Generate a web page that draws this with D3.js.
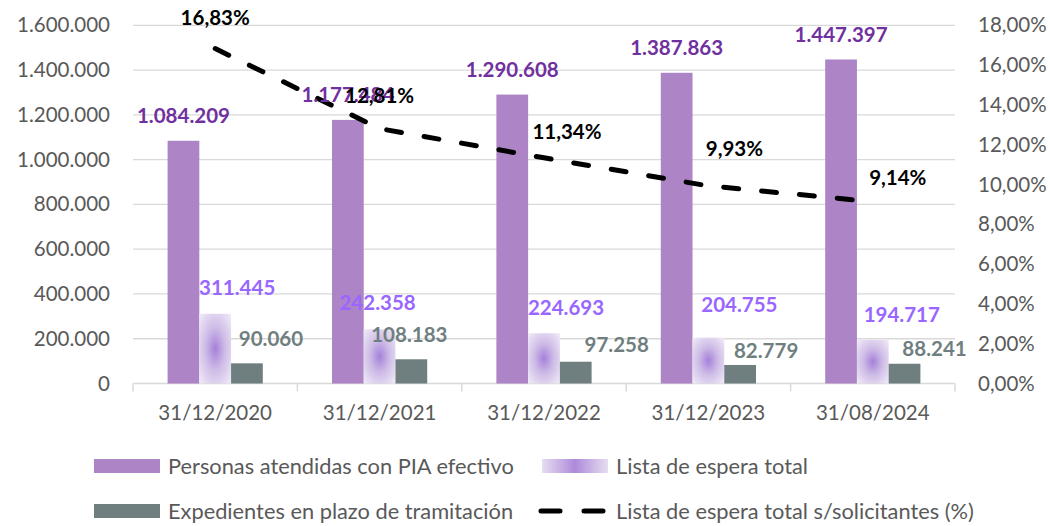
<!DOCTYPE html>
<html>
<head>
<meta charset="utf-8">
<script src="https://cdn.jsdelivr.net/npm/d3@7"></script>
<style>
  html, body { margin: 0; padding: 0; background: #fff; }
  svg { display: block; font-family: Lato, "Open Sans", sans-serif; }
</style>
</head>
<body>
<svg id="chart" width="1050" height="526"></svg>
<script>
// ---- Data ----
const categories = ["31/12/2020", "31/12/2021", "31/12/2022", "31/12/2023", "31/08/2024"];
const personasPIA = [1084209, 1177484, 1290608, 1387863, 1447397];
const listaEspera = [311445, 242358, 224693, 204755, 194717];
const expedientes = [90060, 108183, 97258, 82779, 88241];
const pctListaSolicitantes = [16.83, 12.81, 11.34, 9.93, 9.14];
const leftTicks = [0, 200000, 400000, 600000, 800000, 1000000, 1200000, 1400000, 1600000];
const rightTicks = [0, 2, 4, 6, 8, 10, 12, 14, 16, 18];
const seriesNames = ["Personas atendidas con PIA efectivo", "Lista de espera total",
                     "Expedientes en plazo de tramitación", "Lista de espera total s/solicitantes (%)"];

// ---- Label nudges (layout only, in px) ----
const nudgeLista = [[22, -26], [-2, -26], [22, -25], [31, -33], [29, -25]];
const nudgeExp = [[24, -25], [-2, -24], [41, -17], [26, -14], [30, -15]];
const nudgePct = [[0, -31], [0, -33], [23, -26], [26, -37], [25, -24]];

// ---- Setup ----
const svg = d3.select("#chart");
const plotL = 133, plotR = 955, plotT = 25.3, plotB = 383.5;
const locale = d3.formatLocale({ decimal: ",", thousands: ".", grouping: [3], currency: ["", "€"] });
const fmtInt = locale.format(",d");
const fmtPct = v => locale.format(".2f")(v) + "%";

const x0 = d3.scaleBand().domain(categories).range([plotL, plotR]).paddingInner(0).paddingOuter(0);
const keys = ["pia", "lista", "exp"];
const x1 = d3.scaleBand().domain(keys).range([0, x0.bandwidth()]).paddingInner(0).paddingOuter(1.09);
const y = d3.scaleLinear().domain([0, 1600000]).range([plotB, plotT]);
const y2 = d3.scaleLinear().domain([0, 18]).range([plotB, plotT]);

const defs = svg.append("defs");
const rg = defs.append("radialGradient").attr("id", "listaGrad")
  .attr("cx", "50%").attr("cy", "50%").attr("r", "75%");
rg.append("stop").attr("offset", "0%").attr("stop-color", "#A580DA");
rg.append("stop").attr("offset", "40%").attr("stop-color", "#CDBBE6");
rg.append("stop").attr("offset", "100%").attr("stop-color", "#F6F2FA");
const lg = defs.append("linearGradient").attr("id", "listaLegend").attr("x1", "0%").attr("x2", "100%");
lg.append("stop").attr("offset", "0%").attr("stop-color", "#E6DEF0");
lg.append("stop").attr("offset", "50%").attr("stop-color", "#AE8ADA");
lg.append("stop").attr("offset", "100%").attr("stop-color", "#E6DEF0");

// ---- Gridlines ----
svg.append("g").selectAll("line").data(leftTicks.filter(d => d > 0)).join("line")
  .attr("x1", plotL).attr("x2", plotR)
  .attr("y1", d => y(d)).attr("y2", d => y(d))
  .attr("stroke", "#D9D9D9").attr("stroke-width", 1.3);

// ---- Left axis ----
const axL = d3.axisLeft(y).tickValues(leftTicks).tickFormat(fmtInt).tickSize(0).tickPadding(23);
const gL = svg.append("g").attr("transform", `translate(${plotL},0)`).call(axL);
gL.select(".domain").remove();
gL.selectAll("text").attr("fill", "#595959").style("font-size", "20.5px").style("font-family", "Lato");

// ---- Right axis ----
const axR = d3.axisRight(y2).tickValues(rightTicks).tickFormat(fmtPct).tickSize(0).tickPadding(23);
const gR = svg.append("g").attr("transform", `translate(${plotR},0)`).call(axR);
gR.select(".domain").remove();
gR.selectAll("text").attr("fill", "#595959").style("font-size", "20.5px").style("font-family", "Lato");

// ---- Bottom axis ----
const gB = svg.append("g").attr("transform", `translate(0,${plotB})`);
gB.append("line").attr("x1", plotL).attr("x2", plotR).attr("stroke", "#D9D9D9").attr("stroke-width", 1.5);
const bounds = categories.map(c => x0(c)).concat([x0(categories[categories.length - 1]) + x0.bandwidth()]);
gB.selectAll("line.tk").data(bounds).join("line").attr("class", "tk")
  .attr("x1", d => d).attr("x2", d => d).attr("y1", 0).attr("y2", 8)
  .attr("stroke", "#D9D9D9").attr("stroke-width", 1.5);
gB.selectAll("text").data(categories).join("text")
  .attr("x", d => x0(d) + x0.bandwidth() / 2).attr("y", 36)
  .attr("text-anchor", "middle").attr("fill", "#595959")
  .style("font-size", "20.5px").text(d => d);

// ---- Bars ----
const gBars = svg.append("g");
const cx = (i, k) => x0(categories[i]) + x1(k);
gBars.selectAll("rect.pia").data(personasPIA).join("rect").attr("class", "pia")
  .attr("x", (d, i) => cx(i, "pia")).attr("width", x1.bandwidth())
  .attr("y", d => y(d)).attr("height", d => plotB - y(d)).attr("fill", "#AD84C6");
gBars.selectAll("rect.lista").data(listaEspera).join("rect").attr("class", "lista")
  .attr("x", (d, i) => cx(i, "lista")).attr("width", x1.bandwidth())
  .attr("y", d => y(d)).attr("height", d => plotB - y(d)).attr("fill", "url(#listaGrad)");
gBars.selectAll("rect.exp").data(expedientes).join("rect").attr("class", "exp")
  .attr("x", (d, i) => cx(i, "exp")).attr("width", x1.bandwidth())
  .attr("y", d => y(d)).attr("height", d => plotB - y(d)).attr("fill", "#6F7F80");

// ---- Dashed line ----
const lineGen = d3.line().x((d, i) => x0(categories[i]) + x0.bandwidth() / 2).y(d => y2(d));
svg.append("path").datum(pctListaSolicitantes).attr("d", lineGen)
  .attr("fill", "none").attr("stroke", "#000").attr("stroke-width", 5)
  .attr("stroke-linecap", "round").attr("stroke-dasharray", "15,23");

// ---- Data labels ----
const gLab = svg.append("g").style("font-weight", "700").style("font-size", "20.5px");
gLab.selectAll("text.pia").data(personasPIA).join("text").attr("class", "pia")
  .attr("x", (d, i) => cx(i, "pia") + x1.bandwidth() / 2).attr("y", d => y(d) - 25)
  .attr("dy", "0.35em").attr("text-anchor", "middle").attr("fill", "#7030A0").text(fmtInt);
gLab.selectAll("text.lista").data(listaEspera).join("text").attr("class", "lista")
  .attr("x", (d, i) => cx(i, "lista") + x1.bandwidth() / 2 + nudgeLista[i][0])
  .attr("y", (d, i) => y(d) + nudgeLista[i][1])
  .attr("dy", "0.35em").attr("text-anchor", "middle").attr("fill", "#9966FF").text(fmtInt);
gLab.selectAll("text.exp").data(expedientes).join("text").attr("class", "exp")
  .attr("x", (d, i) => cx(i, "exp") + x1.bandwidth() / 2 + nudgeExp[i][0])
  .attr("y", (d, i) => y(d) + nudgeExp[i][1])
  .attr("dy", "0.35em").attr("text-anchor", "middle").attr("fill", "#6F7F80").text(fmtInt);
gLab.selectAll("text.pct").data(pctListaSolicitantes).join("text").attr("class", "pct")
  .attr("x", (d, i) => x0(categories[i]) + x0.bandwidth() / 2 + nudgePct[i][0])
  .attr("y", (d, i) => y2(d) + nudgePct[i][1])
  .attr("dy", "0.35em").attr("text-anchor", "middle").attr("fill", "#000").text(fmtPct);

// ---- Legend ----
const gLeg = svg.append("g").style("font-size", "21.8px").attr("fill", "#595959");
const legItems = [
  { name: seriesNames[0], x: 94, y: 466, type: "rect", fill: "#AD84C6" },
  { name: seriesNames[1], x: 542, y: 466, type: "rect", fill: "url(#listaLegend)" },
  { name: seriesNames[2], x: 94, y: 511, type: "rect", fill: "#6F7F80" },
  { name: seriesNames[3], x: 542, y: 511, type: "line" }
];
legItems.forEach(it => {
  if (it.type === "rect") {
    gLeg.append("rect").attr("x", it.x).attr("y", it.y - 7).attr("width", 66).attr("height", 14).attr("fill", it.fill);
  } else {
    gLeg.append("line").attr("x1", it.x - 1).attr("x2", it.x + 63).attr("y1", it.y).attr("y2", it.y)
      .attr("stroke", "#000").attr("stroke-width", 5).attr("stroke-linecap", "round")
      .attr("stroke-dasharray", "19,24");
  }
  gLeg.append("text").attr("x", it.x + 74).attr("y", it.y).attr("dy", "0.35em").text(it.name);
});
</script>
</body>
</html>
